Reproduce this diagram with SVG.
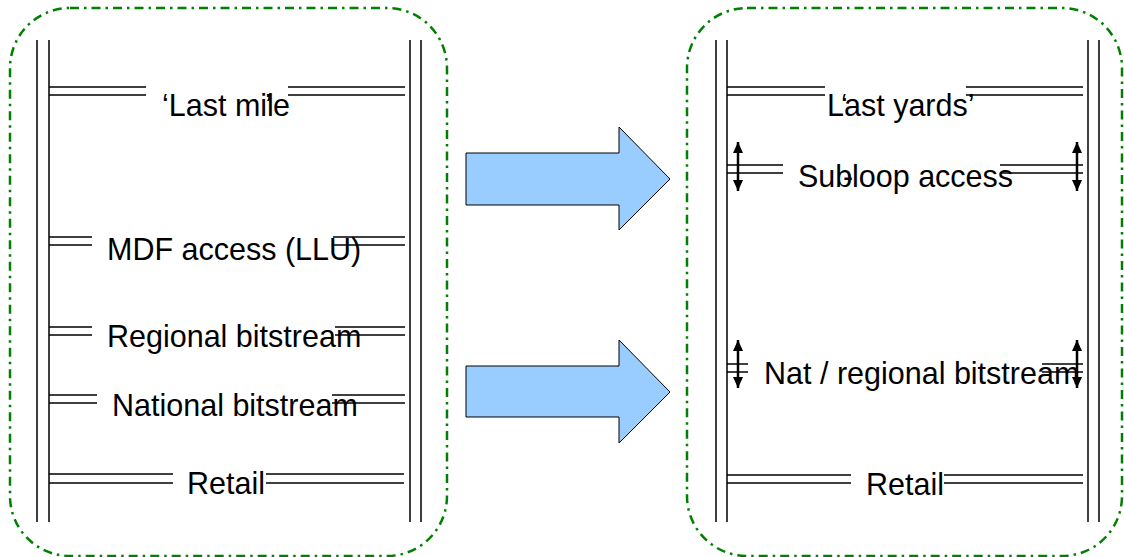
<svg xmlns="http://www.w3.org/2000/svg" width="1124" height="557" viewBox="0 0 1124 557">
<defs>
<style>
.frame{fill:none;stroke:#008000;stroke-width:2.5;stroke-dasharray:9 5 2.5 5}
.rail{stroke:#000;stroke-width:1.5;fill:none}
.lvl{stroke:#000;stroke-width:1.5;fill:none}
.lbl{font-family:"Liberation Sans",Arial,sans-serif;font-size:30.5px;fill:#000}
.big{fill:#99CCFF;stroke:#000;stroke-width:1}
.dbl{stroke:#000;stroke-width:2.5;marker-start:url(#ah);marker-end:url(#ah)}
</style>
<marker id="ah" viewBox="0 0 12 12" refX="12" refY="6" markerWidth="12" markerHeight="11" markerUnits="userSpaceOnUse" orient="auto-start-reverse">
<path d="M0,0.5 L12,6 L0,11.5 Z" fill="#000"/>
</marker>
</defs>

<g id="panel-left">
<rect class="frame" x="10" y="8" width="437" height="548" rx="60" ry="60"/>
<path class="rail" d="M37,40V522M49,40V522M410,40V522M421,40V522"/>
</g>

<g id="panel-right">
<rect class="frame" x="687" y="8" width="435" height="548" rx="60" ry="60"/>
<path class="rail" d="M716,40V522M727,40V522M1088,40V522M1099,40V522"/>
</g>

<g id="last-mile">
<path class="lvl" d="M49,87H146M49,95H146M288,87H405M288,95H405"/>
<text class="lbl" x="162" y="116">‘Last mil<tspan x="265">’</tspan><tspan x="273">e</tspan></text>
</g>
<g id="mdf-access">
<path class="lvl" d="M49,237H92M49,245H92M333,237H405M333,245H405"/>
<text class="lbl" x="107" y="260">MDF access (LLU)</text>
</g>
<g id="regional-bitstream">
<path class="lvl" d="M49,327H92M49,335H92M335,327H405M335,335H405"/>
<text class="lbl" x="107" y="347">Regional bitstream</text>
</g>
<g id="national-bitstream">
<path class="lvl" d="M49,395H97M49,403H97M332,395H405M332,403H405"/>
<text class="lbl" x="112" y="416">National bitstream</text>
</g>
<g id="retail-left">
<path class="lvl" d="M49,474H173M49,483H173M266,474H404M266,483H404"/>
<text class="lbl" x="187" y="494">Retail</text>
</g>

<g id="last-yards">
<path class="lvl" d="M727,87H825M727,95H825M966,87H1083M966,95H1083"/>
<text class="lbl" x="827" y="116">L<tspan x="841">‘</tspan><tspan x="844">ast yards’</tspan></text>
</g>
<g id="subloop-access">
<path class="lvl" d="M727,165H783M727,173H783M1000,165H1083M1000,173H1083"/>
<text class="lbl" x="798" y="187">Sub<tspan x="843">-</tspan><tspan x="852">loop access</tspan></text>
</g>
<g id="nat-regional-bitstream">
<path class="lvl" d="M727,364H748M727,372H748M1042,364H1083M1042,372H1083"/>
<text class="lbl" x="764" y="384">Nat / regional bitstream</text>
</g>
<g id="retail-right">
<path class="lvl" d="M727,475H851M727,483H851M944,475H1083M944,483H1083"/>
<text class="lbl" x="866" y="495">Retail</text>
</g>

<g id="connectors">
<polygon class="big" points="466,153 619,153 619,127 670,179 619,230 619,205 466,205"/>
<polygon class="big" points="466,366 619,366 619,340 670,392 619,443 619,417 466,417"/>
<line class="dbl" x1="738" y1="142" x2="738" y2="191"/>
<line class="dbl" x1="1077" y1="142" x2="1077" y2="191"/>
<line class="dbl" x1="738" y1="340" x2="738" y2="388"/>
<line class="dbl" x1="1077" y1="340" x2="1077" y2="388"/>
</g>
</svg>
